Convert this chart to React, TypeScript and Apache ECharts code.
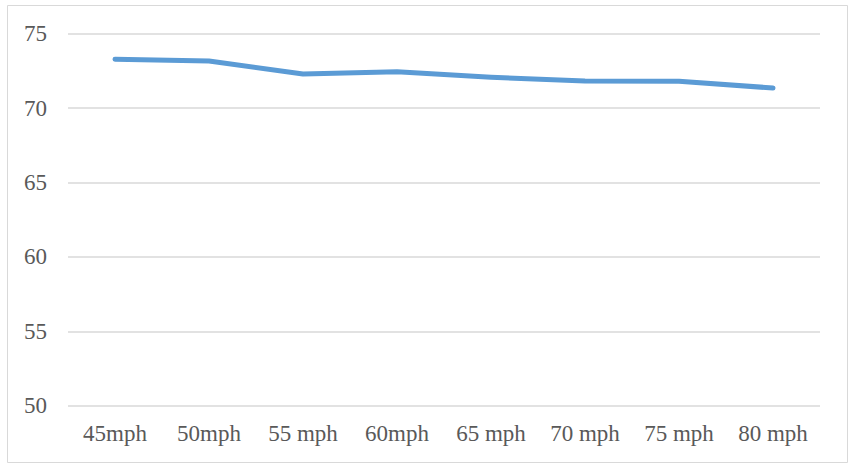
import React, { useEffect, useRef } from "react";
import * as echarts from "echarts";

const categories = ["45mph", "50mph", "55 mph", "60mph", "65 mph", "70 mph", "75 mph", "80 mph"];
const values = [73.28, 73.17, 72.29, 72.45, 72.07, 71.82, 71.8, 71.35];
const yMin = 50;
const yMax = 75;
const yInterval = 5;

const FONT = "'Liberation Serif', 'Times New Roman', serif";

export default function App() {
  const ref = useRef<HTMLDivElement>(null);
  useEffect(() => {
    if (!ref.current) return;
    const chart = echarts.init(ref.current, undefined, { renderer: "svg" });
    chart.setOption({
      animation: false,
      backgroundColor: "#ffffff",
      graphic: [
        {
          type: "rect",
          shape: { x: 7.5, y: 5.5, width: 840, height: 457 },
          style: { fill: "none", stroke: "#d9d9d9", lineWidth: 1 },
          silent: true,
        },
      ],
      grid: { left: 68, right: 30, top: 33.7, bottom: 58.3, containLabel: false },
      xAxis: {
        type: "category",
        data: categories,
        boundaryGap: true,
        axisLine: { show: false },
        axisTick: { show: false },
        axisLabel: {
          color: "#595959",
          fontFamily: FONT,
          fontSize: 23,
          margin: 16,
        },
      },
      yAxis: {
        type: "value",
        min: yMin,
        max: yMax,
        interval: yInterval,
        axisLine: { show: false },
        axisTick: { show: false },
        splitLine: { lineStyle: { color: "#d9d9d9", width: 1.5 } },
        axisLabel: {
          color: "#595959",
          fontFamily: FONT,
          fontSize: 23,
          margin: 21,
        },
      },
      series: [
        {
          type: "line",
          data: values,
          showSymbol: false,
          symbol: "none",
          lineStyle: { color: "#5b9bd5", width: 5, cap: "round", join: "round" },
        },
      ],
    });
    return () => chart.dispose();
  }, []);
  return (
    <div
      ref={ref}
      style={{ position: "absolute", left: 0, top: 0, width: 850, height: 464 }}
    />
  );
}
